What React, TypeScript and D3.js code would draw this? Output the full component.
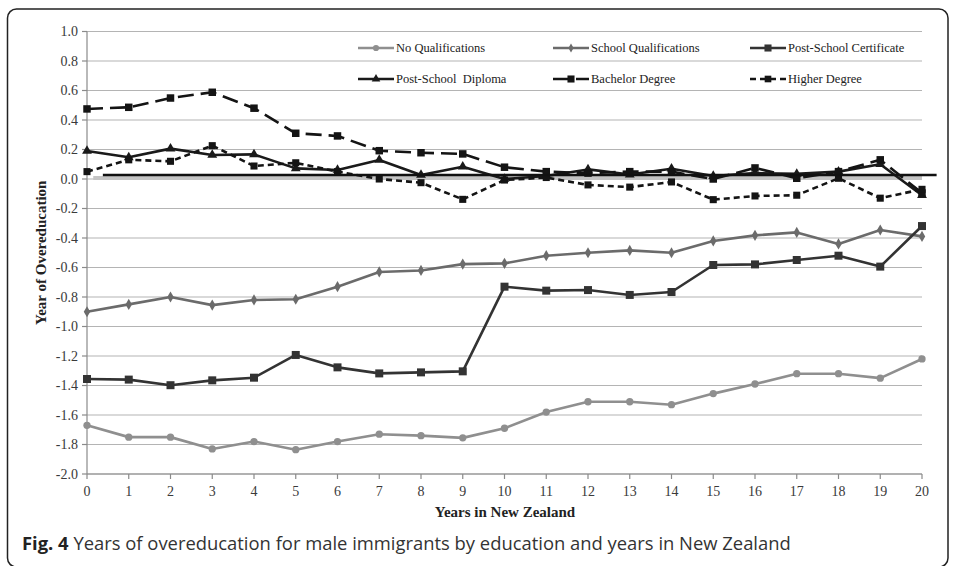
import React from 'react';
import * as d3 from 'd3';

const years = [0, 1, 2, 3, 4, 5, 6, 7, 8, 9, 10, 11, 12, 13, 14, 15, 16, 17, 18, 19, 20];
const noQualifications = [-1.67, -1.75, -1.75, -1.83, -1.78, -1.835, -1.78, -1.73, -1.74, -1.755, -1.69, -1.58, -1.51, -1.51, -1.53, -1.455, -1.39, -1.32, -1.32, -1.35, -1.22];
const schoolQualifications = [-0.9, -0.85, -0.8, -0.855, -0.82, -0.815, -0.73, -0.63, -0.62, -0.577, -0.572, -0.52, -0.5, -0.484, -0.5, -0.42, -0.382, -0.362, -0.44, -0.346, -0.389];
const postSchoolCertificate = [-1.356, -1.36, -1.398, -1.365, -1.347, -1.193, -1.277, -1.318, -1.311, -1.304, -0.73, -0.757, -0.753, -0.786, -0.766, -0.583, -0.579, -0.549, -0.52, -0.594, -0.319];
const postSchoolDiploma = [0.19, 0.147, 0.206, 0.163, 0.167, 0.072, 0.061, 0.129, 0.027, 0.083, 0.0, 0.02, 0.065, 0.03, 0.07, 0.02, 0.04, 0.035, 0.05, 0.1, -0.11];
const bachelorDegree = [0.475, 0.486, 0.549, 0.588, 0.48, 0.31, 0.292, 0.192, 0.178, 0.17, 0.08, 0.05, 0.04, 0.05, 0.05, 0.0, 0.075, 0.005, 0.05, 0.13, -0.095];
const higherDegree = [0.05, 0.13, 0.12, 0.226, 0.088, 0.11, 0.05, 0.0, -0.025, -0.138, -0.007, 0.01, -0.04, -0.055, -0.02, -0.14, -0.115, -0.11, 0.005, -0.13, -0.07];
const yTicks = [1.0, 0.8, 0.6, 0.4, 0.2, 0.0, -0.2, -0.4, -0.6, -0.8, -1.0, -1.2, -1.4, -1.6, -1.8, -2.0];
const seriesNames = ['No Qualifications', 'School Qualifications', 'Post-School Certificate', 'Post-School  Diploma', 'Bachelor Degree', 'Higher Degree'];
const referenceLineValues = [0.007, 0.027];
const referenceLineStarts = [0.15, 0.38];
const referenceLineEnds = [20, 20.35];

const W = 956;
const H = 566;
const serif = '"Liberation Serif", "Times New Roman", serif';
const sans = '"Open Sans", "Noto Sans", sans-serif';

const styles = [
  { color: '#8f8f8f', dash: '', symbol: d3.symbolCircle, size: 42, lsize: 30 },
  { color: '#6b6b6b', dash: '', symbol: d3.symbolDiamond, size: 36, lsize: 24 },
  { color: '#333333', dash: '', symbol: d3.symbolSquare, size: 64, lsize: 50 },
  { color: '#1a1a1a', dash: '', symbol: d3.symbolTriangle, size: 42, lsize: 32 },
  { color: '#141414', dash: '16,7', symbol: d3.symbolSquare, size: 56, lsize: 50 },
  { color: '#141414', dash: '6,4', symbol: d3.symbolSquare, size: 50, lsize: 44 },
];

export default function App() {
  const x = d3.scaleLinear().domain([0, 20]).range([87, 922]);
  const y = d3.scaleLinear().domain([-2, 1]).range([474, 31.5]);
  const allSeries = [noQualifications, schoolQualifications, postSchoolCertificate, postSchoolDiploma, bachelorDegree, higherDegree];
  const line = d3.line<number>().x((_, i) => x(years[i])).y((d) => y(d));

  const legendCols = [358, 553, 750];
  const legendRows = [48, 79];

  return (
    <svg width={W} height={H} style={{ position: 'absolute', left: 0, top: 0, background: '#fff' }} fontFamily={serif}>
      <rect x={0} y={0} width={W} height={H} fill="#fff" />
      <rect x={7.5} y={9} width={940.5} height={558} rx={9} fill="none" stroke="#222" strokeWidth={1.5} />
      {yTicks.map((t) => (
        <line key={'g' + t} x1={x(0)} x2={x(20)} y1={y(t)} y2={y(t)} stroke="#b4b4b4" strokeWidth={1.2} />
      ))}
      <line x1={x(0)} x2={x(0)} y1={y(1)} y2={y(-2)} stroke="#8a8a8a" strokeWidth={1.2} />
      {yTicks.map((t) => (
        <g key={'yt' + t}>
          <line x1={x(0) - 5} x2={x(0)} y1={y(t)} y2={y(t)} stroke="#8a8a8a" strokeWidth={1.2} />
          <text x={x(0) - 9} y={y(t)} dy="0.34em" textAnchor="end" fontSize={14} fill="#3a3a3a">
            {t.toFixed(1)}
          </text>
        </g>
      ))}
      <line x1={x(0)} x2={x(20)} y1={y(-2)} y2={y(-2)} stroke="#8a8a8a" strokeWidth={1.2} />
      {years.map((v) => (
        <g key={'xt' + v}>
          <line x1={x(v)} x2={x(v)} y1={y(-2)} y2={y(-2) + 5} stroke="#8a8a8a" strokeWidth={1.2} />
          <text x={x(v)} y={y(-2) + 22} textAnchor="middle" fontSize={14} fill="#3a3a3a">
            {v}
          </text>
        </g>
      ))}
      <text x={505} y={517} textAnchor="middle" fontSize={15} fontWeight="bold" fill="#222">
        Years in New Zealand
      </text>
      <text transform={`translate(46, ${(y(1) + y(-2)) / 2}) rotate(-90)`} textAnchor="middle" fontSize={15} fontWeight="bold" fill="#222">
        Year of Overeducation
      </text>
      <line x1={x(referenceLineStarts[0])} x2={x(referenceLineEnds[0])} y1={y(referenceLineValues[0])} y2={y(referenceLineValues[0])} stroke="#c4c4c4" strokeWidth={4} />
      {allSeries.map((s, si) => {
        const st = styles[si];
        const sym = d3.symbol().type(st.symbol).size(st.size)();
        return (
          <g key={'s' + si}>
            <path d={line(s) || ''} fill="none" stroke={st.color} strokeWidth={2.6} strokeDasharray={st.dash || undefined} strokeLinejoin="round" />
            {s.map((v, i) => (
              <path key={i} d={sym || ''} transform={`translate(${x(years[i])},${y(v)})`} fill={st.color} />
            ))}
          </g>
        );
      })}
      <line x1={x(referenceLineStarts[1])} x2={x(referenceLineEnds[1])} y1={y(referenceLineValues[1])} y2={y(referenceLineValues[1])} stroke="#111" strokeWidth={2.4} />
      {seriesNames.map((name, i) => {
        const st = styles[i];
        const cx = legendCols[i % 3];
        const cy = legendRows[Math.floor(i / 3)];
        const sym = d3.symbol().type(st.symbol).size(st.lsize)();
        return (
          <g key={'l' + i}>
            <line x1={cx} x2={cx + 36} y1={cy} y2={cy} stroke={st.color} strokeWidth={2.6} strokeDasharray={st.dash || undefined} />
            <path d={sym || ''} transform={`translate(${cx + 18},${cy})`} fill={st.color} />
            <text x={cx + 38} y={cy} dy="0.34em" fontSize={12.5} fill="#222" style={{ whiteSpace: 'pre' }}>
              {name}
            </text>
          </g>
        );
      })}
      <text x={22} y={550} fontFamily={sans} fontSize={18.4} fill="#333">
        <tspan fontWeight="bold" fill="#222">Fig. 4</tspan>
        <tspan> Years of overeducation for male immigrants by education and years in New Zealand</tspan>
      </text>
    </svg>
  );
}
